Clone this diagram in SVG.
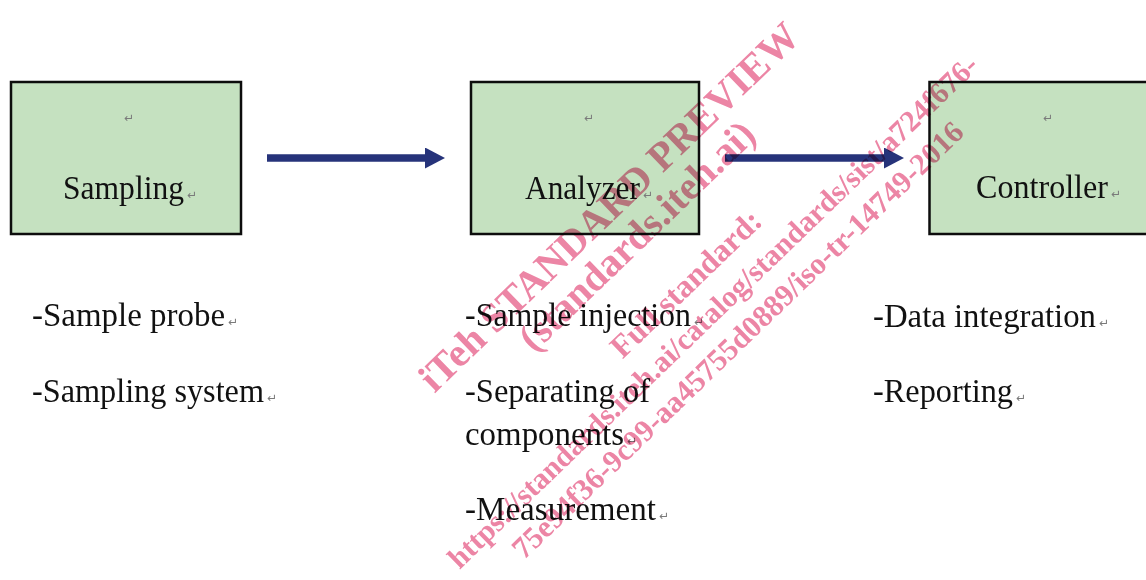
<svg xmlns="http://www.w3.org/2000/svg" width="1146" height="580" viewBox="0 0 1146 580">
<style>
.box{fill:#c5e1c0;stroke:#0d0d0d;stroke-width:2.5}
.lbl{font-family:"Liberation Serif","Times New Roman",serif;font-size:33px;fill:#111}
.pm{font-family:"DejaVu Sans",sans-serif;font-size:12px;fill:#7a7a7a}
.conn{stroke:#26337a;stroke-width:7.5;fill:none}
.wm{font-family:"Liberation Serif","Times New Roman",serif;font-weight:bold;fill:#ec85a5;text-anchor:middle}
</style>
<defs>
<marker id="ah" markerUnits="userSpaceOnUse" markerWidth="21" markerHeight="22" refX="1" refY="10.5" orient="auto">
<path d="M0,0 L20,10.5 L0,21 Z" fill="#26337a"/>
</marker>
</defs>
<rect x="0" y="0" width="1146" height="580" fill="#ffffff"/>
<g id="node-sampling">
<rect class="box" x="11" y="82" width="230" height="152"/>
<text class="pm" x="124" y="122">↵</text>
<text class="lbl" x="63" y="199" textLength="121" lengthAdjust="spacingAndGlyphs">Sampling</text>
<text class="pm" x="187" y="199">↵</text>
</g>
<g id="node-analyzer">
<rect class="box" x="471" y="82" width="228" height="152"/>
<text class="pm" x="584" y="122">↵</text>
<text class="lbl" x="525" y="199" textLength="115" lengthAdjust="spacingAndGlyphs">Analyzer</text>
<text class="pm" x="643" y="199">↵</text>
</g>
<g id="node-controller">
<rect class="box" x="929.5" y="82" width="230" height="152"/>
<text class="pm" x="1043" y="122">↵</text>
<text class="lbl" x="976" y="198" textLength="132" lengthAdjust="spacingAndGlyphs">Controller</text>
<text class="pm" x="1111" y="198">↵</text>
</g>
<g id="connectors">
<line class="conn" x1="267" y1="158" x2="426" y2="158" marker-end="url(#ah)"/>
<line class="conn" x1="725" y1="158" x2="885" y2="158" marker-end="url(#ah)"/>
</g>
<g id="list-sampling">
<text class="lbl" x="32" y="326" textLength="193" lengthAdjust="spacingAndGlyphs">-Sample probe</text>
<text class="pm" x="228" y="326">↵</text>
<text class="lbl" x="32" y="402" textLength="232" lengthAdjust="spacingAndGlyphs">-Sampling system</text>
<text class="pm" x="267" y="402">↵</text>
</g>
<g id="list-analyzer">
<text class="lbl" x="465" y="326" textLength="226" lengthAdjust="spacingAndGlyphs">-Sample injection</text>
<text class="pm" x="694" y="326">↵</text>
<text class="lbl" x="465" y="402" textLength="185" lengthAdjust="spacingAndGlyphs">-Separating of</text>
<text class="lbl" x="465" y="445" textLength="159" lengthAdjust="spacingAndGlyphs">components</text>
<text class="pm" x="627" y="445">↵</text>
<text class="lbl" x="465" y="520" textLength="191" lengthAdjust="spacingAndGlyphs">-Measurement</text>
<text class="pm" x="659" y="520">↵</text>
</g>
<g id="list-controller">
<text class="lbl" x="873" y="327" textLength="223" lengthAdjust="spacingAndGlyphs">-Data integration</text>
<text class="pm" x="1099" y="327">↵</text>
<text class="lbl" x="873" y="402" textLength="140" lengthAdjust="spacingAndGlyphs">-Reporting</text>
<text class="pm" x="1016" y="402">↵</text>
</g>
<g id="watermark" transform="translate(424,404) rotate(-44)" style="mix-blend-mode:multiply">
<text class="wm" x="270" y="0" font-size="40.5">iTeh STANDARD PREVIEW</text>
<text class="wm" x="270" y="40" font-size="40">(standards.iteh.ai)</text>
<text class="wm" x="272" y="106" font-size="32">Full standard:</text>
<text class="wm" x="272" y="144" font-size="30">https://standards.iteh.ai/catalog/standards/sist/a724f676-</text>
<text class="wm" x="270" y="182" font-size="30.5">75e94f36-9c99-aa45755d0889/iso-tr-14749-2016</text>
</g>
</svg>
